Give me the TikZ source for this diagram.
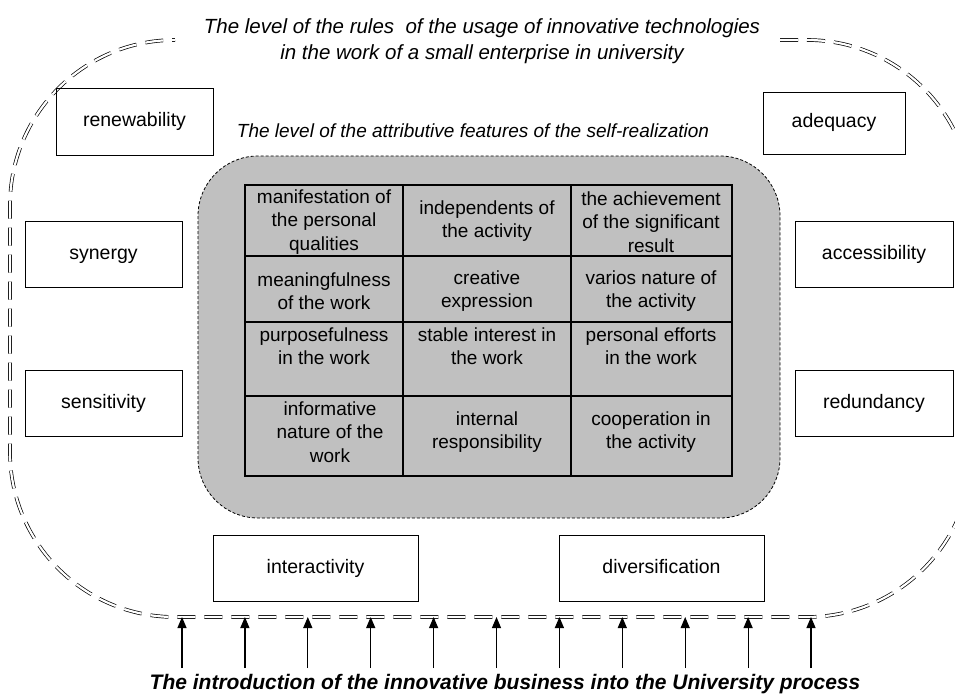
\documentclass[tikz,border=0pt]{standalone}
\usepackage{fontspec}
\setmainfont{Liberation Sans}
\usetikzlibrary{arrows.meta}
\definecolor{panel}{RGB}{192,192,192}
\begin{document}
\begin{tikzpicture}[x=1pt,y=-1pt,
  box/.style={draw=black, line width=0.8pt, inner sep=0pt, text height=14pt, text depth=4pt, font=\fontsize{19.5}{23}\selectfont},
  cell/.style={align=center, font=\fontsize{19}{23.5}\selectfont, inner sep=0pt},
  level/.style={align=center, font=\fontsize{20.5}{26}\selectfont\itshape, inner sep=0pt},
  outer/.style={draw=black, line width=0.7pt, double=white, double distance=2.2pt, dash pattern=on 18pt off 9pt},
  panelbox/.style={draw=black, line width=0.8pt, fill=panel, dash pattern=on 3pt off 2pt},
  grid/.style={draw=black, line width=1.3pt},
  arr/.style={line width=1.2pt, -{Triangle[length=11pt,width=9pt]}}]
\useasboundingbox (0,0) rectangle (955,698);

% outer level boundary
\draw[outer, rounded corners=165pt] (780,40) -- (972,40) -- (972,617) -- (10,617) -- (10,40) -- (175,40);

% titles
\node[level] (title1) at (482,41) {The level of the rules\ \ of the usage of innovative technologies\\in the work of a small enterprise in university};
\node[level, font=\fontsize{19}{24}\selectfont\itshape] (title2) at (473,131) {The level of the attributive features of the self-realization};

% inner panel
\draw[panelbox, rounded corners=60pt] (198,156) rectangle (780,518);

% table grid
\draw[grid] (245,185) rectangle (732,476);
\draw[grid] (403,185) -- (403,476);
\draw[grid] (571,185) -- (571,476);
\draw[grid] (245,256) -- (732,256);
\draw[grid] (245,322) -- (732,322);
\draw[grid] (245,396) -- (732,396);

% table cells
\node[cell] (c11) at (324,222) {manifestation of\\the personal\\qualities};
\node[cell] (c12) at (487,221) {independents of\\the activity};
\node[cell] (c13) at (651,222) {the achievement\\of the significant\\result};
\node[cell] (c21) at (324,291) {meaningfulness\\of the work};
\node[cell] (c22) at (487,291) {creative\\expression};
\node[cell] (c23) at (651,291) {varios nature of\\the activity};
\node[cell] (c31) at (324,346) {purposefulness\\in the work};
\node[cell] (c32) at (487,346) {stable interest in\\the work};
\node[cell] (c33) at (651,346) {personal efforts\\in the work};
\node[cell] (c41) at (330,432) {informative\\nature of the\\work};
\node[cell] (c42) at (487,432) {internal\\responsibility};
\node[cell] (c43) at (651,432) {cooperation in\\the activity};

% property boxes
\node[box, minimum width=157pt, minimum height=67pt] (renew) at (134.5,121.5) {renewability};
\node[box, minimum width=142pt, minimum height=62pt] (adeq) at (834,123) {adequacy};
\node[box, minimum width=157pt, minimum height=66pt] (syn) at (103.5,254) {synergy};
\node[box, minimum width=157pt, minimum height=66pt] (sens) at (103.5,403) {sensitivity};
\node[box, minimum width=158pt, minimum height=66pt] (acc) at (874,254) {accessibility};
\node[box, minimum width=158pt, minimum height=66pt] (red) at (874,403) {redundancy};
\node[box, minimum width=205pt, minimum height=66pt] (inter) at (315.5,568) {interactivity};
\node[box, minimum width=205pt, minimum height=66pt] (div) at (661.5,568) {diversification};

% input arrows
\foreach \i in {0,...,10} {
  \coordinate (s\i) at ({182+62.9*\i},668);
  \coordinate (t\i) at ({182+62.9*\i},617);
  \draw[arr] (s\i) -- (t\i);
}

\node[inner sep=0pt, font=\fontsize{21}{25}\selectfont\bfseries\itshape] (bottom) at (505,684) {The introduction of the innovative business into the University process};
\end{tikzpicture}
\end{document}
